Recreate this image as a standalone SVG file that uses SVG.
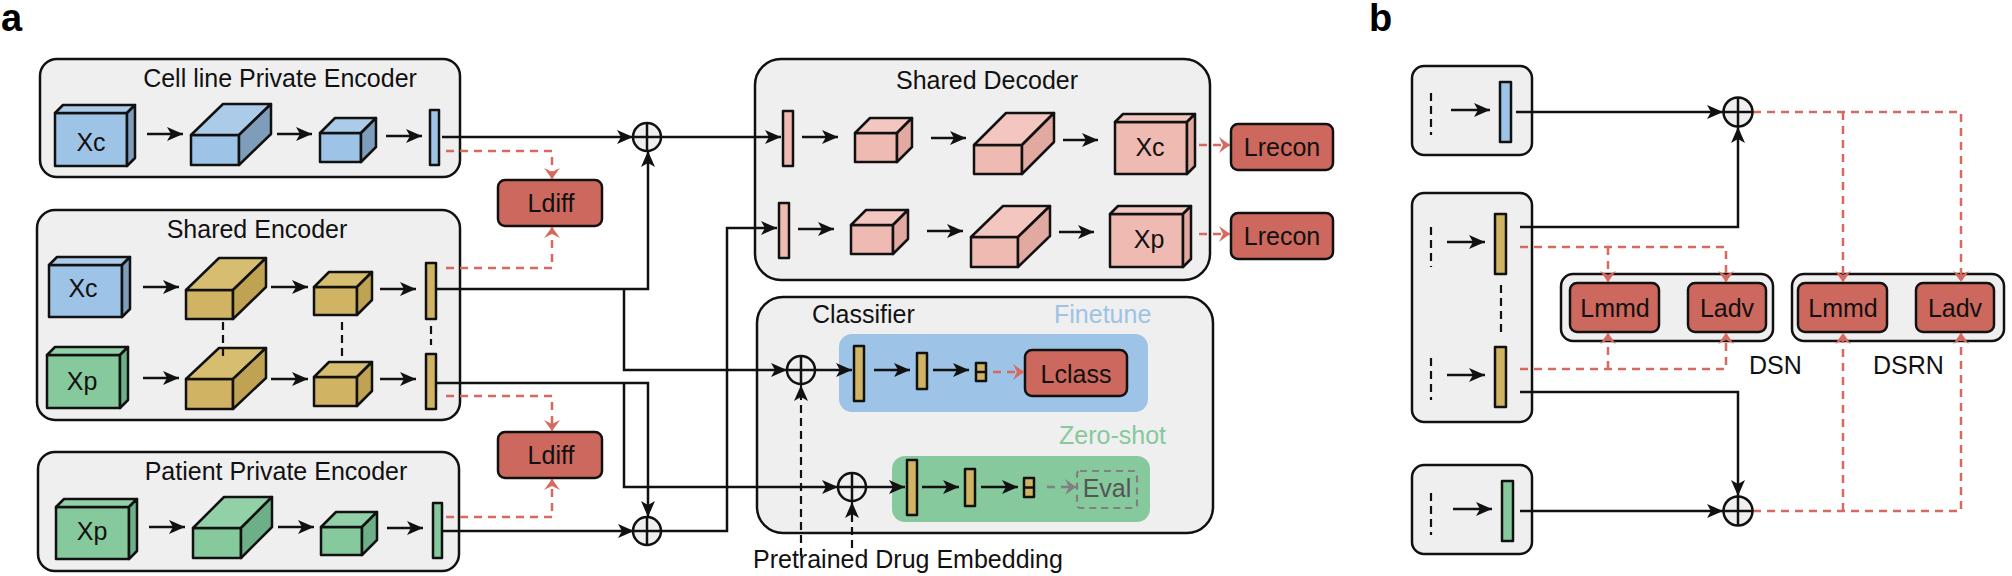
<svg xmlns="http://www.w3.org/2000/svg" width="2012" height="576" viewBox="0 0 2012 576">
<defs>
<style>
.box{fill:#efefef;stroke:#111;stroke-width:2.5}
.t{font-family:"Liberation Sans",Arial,sans-serif;font-size:25px;fill:#111}
.c{text-anchor:middle}
.lbl{font-family:"Liberation Sans",Arial,sans-serif;font-size:38px;font-weight:bold;fill:#000}
.ln{fill:none;stroke:#111;stroke-width:2.5}
.dk{fill:none;stroke:#111;stroke-width:2.2;stroke-dasharray:8 5}
.rd{fill:none;stroke:#d66a60;stroke-width:2.5;stroke-dasharray:8 6}
.gd{fill:none;stroke:#808080;stroke-width:2.5;stroke-dasharray:8 6}
.loss{fill:#cd685e;stroke:#111;stroke-width:2.5}
.sh{stroke:#111;stroke-width:2.5;stroke-linejoin:round}
.bF{fill:#9dc3e6}.bT{fill:#abcbe8}.bS{fill:#7d9dbb}
.gF{fill:#d0b464}.gT{fill:#d6bd70}.gS{fill:#bfa353}
.nF{fill:#86c99d}.nT{fill:#92d0a8}.nS{fill:#6db088}
.pF{fill:#efbab2}.pT{fill:#f3c6bf}.pS{fill:#e2a9a0}
.plus{fill:#efefef;stroke:#111;stroke-width:2.5}
</style>
<marker id="ah" markerUnits="userSpaceOnUse" viewBox="0 0 17 14" markerWidth="17" markerHeight="14" refX="16" refY="7" orient="auto"><path d="M0,0 L16,7 L0,14 L4,7 z" fill="#111"/></marker>
<marker id="ra" markerUnits="userSpaceOnUse" viewBox="0 0 12 16" markerWidth="12" markerHeight="16" refX="11" refY="8" orient="auto"><path d="M0,0 L11,8 L0,16 L4,8 z" fill="#d66a60"/></marker>
<marker id="ga" markerUnits="userSpaceOnUse" viewBox="0 0 12 16" markerWidth="12" markerHeight="16" refX="11" refY="8" orient="auto"><path d="M0,0 L11,8 L0,16 L4,8 z" fill="#808080"/></marker>
</defs>
<rect width="2012" height="576" fill="#fff"/>

<text class="lbl" x="1" y="31">a</text>
<text class="lbl" x="1369" y="31">b</text>

<!-- Cell line Private Encoder -->
<g id="cell-encoder">
<rect class="box" x="40" y="59" width="420" height="118" rx="17"/>
<text class="t c" x="280" y="87">Cell line Private Encoder</text>
<g class="sh"><rect class="bF" x="55" y="113" width="72" height="53"/><polygon class="bT" points="55,113 63,105 135,105 127,113"/><polygon class="bS" points="127,113 135,105 135,158 127,166"/></g>
<text class="t c" x="91" y="151">Xc</text>
<g class="sh"><rect class="bF" x="191" y="135" width="48" height="30"/><polygon class="bT" points="191,135 223,104 271,104 239,135"/><polygon class="bS" points="239,135 271,104 271,134 239,165"/></g>
<g class="sh"><rect class="bF" x="320" y="133" width="41" height="29"/><polygon class="bT" points="320,133 335,118 376,118 361,133"/><polygon class="bS" points="361,133 376,118 376,147 361,162"/></g>
<rect class="sh bF" x="430" y="110" width="9" height="55"/>
<path class="ln" marker-end="url(#ah)" d="M147,134 H183"/>
<path class="ln" marker-end="url(#ah)" d="M277,134 H312"/>
<path class="ln" marker-end="url(#ah)" d="M386,136 H422"/>
</g>

<!-- Shared Encoder -->
<g id="shared-encoder">
<rect class="box" x="37" y="210" width="423" height="210" rx="18"/>
<text class="t c" x="257" y="238">Shared Encoder</text>
<g class="sh"><rect class="bF" x="49" y="265" width="73" height="52"/><polygon class="bT" points="49,265 57,257 130,257 122,265"/><polygon class="bS" points="122,265 130,257 130,309 122,317"/></g>
<text class="t c" x="83" y="297">Xc</text>
<g class="sh"><rect class="gF" x="186" y="290" width="47" height="29"/><polygon class="gT" points="186,290 219,258 266,258 233,290"/><polygon class="gS" points="233,290 266,258 266,287 233,319"/></g>
<g class="sh"><rect class="gF" x="314" y="287" width="43" height="28"/><polygon class="gT" points="314,287 329,272 372,272 357,287"/><polygon class="gS" points="357,287 372,272 372,300 357,315"/></g>
<rect class="sh gF" x="426" y="263" width="10" height="56"/>
<g class="sh"><rect class="nF" x="47" y="355" width="73" height="53"/><polygon class="nT" points="47,355 55,347 128,347 120,355"/><polygon class="nS" points="120,355 128,347 128,400 120,408"/></g>
<text class="t c" x="82" y="390">Xp</text>
<g class="sh"><rect class="gF" x="186" y="379" width="47" height="30"/><polygon class="gT" points="186,379 219,348 266,348 233,379"/><polygon class="gS" points="233,379 266,348 266,378 233,409"/></g>
<g class="sh"><rect class="gF" x="314" y="377" width="43" height="29"/><polygon class="gT" points="314,377 329,362 372,362 357,377"/><polygon class="gS" points="357,377 372,362 372,391 357,406"/></g>
<rect class="sh gF" x="426" y="354" width="10" height="55"/>
<path class="dk" d="M223,322 V357 M342,322 V357 M431,326 V345"/>
<path class="ln" marker-end="url(#ah)" d="M143,287 H179"/>
<path class="ln" marker-end="url(#ah)" d="M271,287 H308"/>
<path class="ln" marker-end="url(#ah)" d="M380,289 H416"/>
<path class="ln" marker-end="url(#ah)" d="M143,378 H179"/>
<path class="ln" marker-end="url(#ah)" d="M271,379 H308"/>
<path class="ln" marker-end="url(#ah)" d="M380,379 H416"/>
</g>

<!-- Patient Private Encoder -->
<g id="patient-encoder">
<rect class="box" x="38" y="452" width="421" height="119" rx="17"/>
<text class="t c" x="276" y="480">Patient Private Encoder</text>
<g class="sh"><rect class="nF" x="56" y="507" width="73" height="52"/><polygon class="nT" points="56,507 64,499 137,499 129,507"/><polygon class="nS" points="129,507 137,499 137,551 129,559"/></g>
<text class="t c" x="92" y="540">Xp</text>
<g class="sh"><rect class="nF" x="193" y="528" width="48" height="30"/><polygon class="nT" points="193,528 224,497 272,497 241,528"/><polygon class="nS" points="241,528 272,497 272,527 241,558"/></g>
<g class="sh"><rect class="nF" x="321" y="527" width="41" height="28"/><polygon class="nT" points="321,527 336,512 377,512 362,527"/><polygon class="nS" points="362,527 377,512 377,540 362,555"/></g>
<rect class="sh nF" x="433" y="503" width="9" height="55"/>
<path class="ln" marker-end="url(#ah)" d="M149,527 H185"/>
<path class="ln" marker-end="url(#ah)" d="M278,527 H314"/>
<path class="ln" marker-end="url(#ah)" d="M387,528 H423"/>
</g>

<!-- Ldiff boxes -->
<g id="ldiff-1"><rect class="loss" x="498" y="180" width="104" height="46" rx="7"/><text class="t c" x="551" y="212">Ldiff</text></g>
<g id="ldiff-2"><rect class="loss" x="498" y="432" width="104" height="46" rx="7"/><text class="t c" x="551" y="464">Ldiff</text></g>

<!-- Shared Decoder -->
<g id="shared-decoder">
<rect class="box" x="755" y="59" width="455" height="221" rx="26"/>
<text class="t c" x="987" y="89">Shared Decoder</text>
<rect class="sh pF" x="783" y="111" width="10" height="55"/>
<g class="sh"><rect class="pF" x="855" y="133" width="42" height="29"/><polygon class="pT" points="855,133 870,118 912,118 897,133"/><polygon class="pS" points="897,133 912,118 912,147 897,162"/></g>
<g class="sh"><rect class="pF" x="974" y="145" width="48" height="29"/><polygon class="pT" points="974,145 1006,113 1054,113 1022,145"/><polygon class="pS" points="1022,145 1054,113 1054,142 1022,174"/></g>
<g class="sh"><rect class="pF" x="1115" y="122" width="72" height="52"/><polygon class="pT" points="1115,122 1123,114 1195,114 1187,122"/><polygon class="pS" points="1187,122 1195,114 1195,166 1187,174"/></g>
<text class="t c" x="1150" y="156">Xc</text>
<rect class="sh pF" x="779" y="203" width="10" height="55"/>
<g class="sh"><rect class="pF" x="851" y="225" width="42" height="29"/><polygon class="pT" points="851,225 866,210 908,210 893,225"/><polygon class="pS" points="893,225 908,210 908,239 893,254"/></g>
<g class="sh"><rect class="pF" x="971" y="237" width="47" height="30"/><polygon class="pT" points="971,237 1003,206 1050,206 1018,237"/><polygon class="pS" points="1018,237 1050,206 1050,236 1018,267"/></g>
<g class="sh"><rect class="pF" x="1110" y="214" width="73" height="53"/><polygon class="pT" points="1110,214 1118,206 1191,206 1183,214"/><polygon class="pS" points="1183,214 1191,206 1191,259 1183,267"/></g>
<text class="t c" x="1149" y="248">Xp</text>
<path class="ln" marker-end="url(#ah)" d="M802,137 H838"/>
<path class="ln" marker-end="url(#ah)" d="M931,138 H966"/>
<path class="ln" marker-end="url(#ah)" d="M1063,140 H1098"/>
<path class="ln" marker-end="url(#ah)" d="M798,229 H834"/>
<path class="ln" marker-end="url(#ah)" d="M927,231 H963"/>
<path class="ln" marker-end="url(#ah)" d="M1059,232 H1094"/>
</g>
<g id="lrecon-1"><rect class="loss" x="1231" y="124" width="102" height="46" rx="7"/><text class="t c" x="1282" y="156">Lrecon</text></g>
<g id="lrecon-2"><rect class="loss" x="1231" y="213" width="102" height="46" rx="7"/><text class="t c" x="1282" y="245">Lrecon</text></g>

<!-- Classifier -->
<g id="classifier">
<rect class="box" x="757" y="297" width="456" height="236" rx="26"/>
<text class="t" x="812" y="323">Classifier</text>
<text class="t" x="1054" y="323" style="fill:#9dc3e6">Finetune</text>
<text class="t" x="1059" y="444" style="fill:#86c99d">Zero-shot</text>
<rect x="839" y="334" width="309" height="78" rx="13" fill="#9dc3e6"/>
<rect x="892" y="456" width="258" height="66" rx="13" fill="#86c99d"/>
<rect class="sh gF" x="854" y="346" width="10" height="55"/>
<rect class="sh gF" x="917" y="353" width="10" height="36"/>
<rect class="sh gF" x="976" y="363" width="10" height="18"/>
<path class="ln" d="M976,372 H986"/>
<path class="ln" marker-end="url(#ah)" d="M874,370 H910"/>
<path class="ln" marker-end="url(#ah)" d="M933,370 H969"/>
<rect class="sh gF" x="907" y="460" width="10" height="55"/>
<rect class="sh gF" x="965" y="469" width="10" height="37"/>
<rect class="sh gF" x="1024" y="478" width="10" height="19"/>
<path class="ln" d="M1024,487.5 H1034"/>
<path class="ln" marker-end="url(#ah)" d="M922,487 H959"/>
<path class="ln" marker-end="url(#ah)" d="M981,487 H1018"/>
<g id="lclass"><rect class="loss" x="1025" y="350" width="102" height="46" rx="7"/><text class="t c" x="1076" y="383">Lclass</text></g>
<g id="eval"><rect x="1077" y="471" width="60" height="37" rx="3" fill="none" stroke="#808080" stroke-width="2.2" stroke-dasharray="7 5"/><text class="t c" x="1107" y="497" style="fill:#555">Eval</text></g>
</g>

<text class="t" x="753" y="568">Pretrained Drug Embedding</text>

<!-- Panel b nodes -->
<g id="b-cell">
<rect class="box" x="1412" y="66" width="120" height="89" rx="12"/>
<path class="dk" d="M1431,93 V135"/>
<path class="ln" marker-end="url(#ah)" d="M1451,110 H1490"/>
<rect class="sh bF" x="1500" y="82" width="11" height="60"/>
</g>
<g id="b-shared">
<rect class="box" x="1412" y="193" width="120" height="229" rx="12"/>
<path class="dk" d="M1431,227 V267 M1431,358 V400 M1501,285 V337"/>
<path class="ln" marker-end="url(#ah)" d="M1447,242 H1485"/>
<path class="ln" marker-end="url(#ah)" d="M1447,375 H1485"/>
<rect class="sh gF" x="1495" y="214" width="11" height="60"/>
<rect class="sh gF" x="1495" y="347" width="11" height="60"/>
</g>
<g id="b-patient">
<rect class="box" x="1412" y="465" width="120" height="89" rx="12"/>
<path class="dk" d="M1431,493 V535"/>
<path class="ln" marker-end="url(#ah)" d="M1453,509 H1492"/>
<rect class="sh nF" x="1502" y="481" width="11" height="60"/>
</g>
<g id="dsn">
<rect class="box" x="1561" y="274" width="212" height="67" rx="12"/>
<rect class="loss" x="1570" y="283" width="89" height="49" rx="7"/><text class="t c" x="1615" y="317">Lmmd</text>
<rect class="loss" x="1688" y="283" width="78" height="49" rx="7"/><text class="t c" x="1727" y="317">Ladv</text>
<text class="t" x="1749" y="374">DSN</text>
</g>
<g id="dsrn">
<rect class="box" x="1792" y="274" width="212" height="67" rx="12"/>
<rect class="loss" x="1798" y="283" width="89" height="49" rx="7"/><text class="t c" x="1843" y="317">Lmmd</text>
<rect class="loss" x="1916" y="283" width="78" height="49" rx="7"/><text class="t c" x="1955" y="317">Ladv</text>
<text class="t" x="1873" y="374">DSRN</text>
</g>

<!-- Connectors -->
<g id="connectors">
<path class="ln" marker-end="url(#ah)" d="M442,137 H633"/>
<path class="ln" marker-end="url(#ah)" d="M661,137 H781"/>
<path class="ln" marker-end="url(#ah)" d="M437,289 H648 V151"/>
<path class="ln" marker-end="url(#ah)" d="M624,289 V370 H787"/>
<path class="ln" marker-end="url(#ah)" d="M437,383 H648 V517"/>
<path class="ln" marker-end="url(#ah)" d="M624,383 V487 H838"/>
<path class="ln" marker-end="url(#ah)" d="M443,531 H634"/>
<path class="ln" marker-end="url(#ah)" d="M662,531 H727 V228 H777"/>
<path class="ln" marker-end="url(#ah)" d="M815,370 H852"/>
<path class="ln" marker-end="url(#ah)" d="M867,487 H905"/>
<path class="dk" marker-end="url(#ah)" d="M801,556 V385"/>
<path class="dk" marker-end="url(#ah)" d="M852,548 V502"/>
<path class="rd" marker-end="url(#ra)" d="M446,151 H552 V179"/>
<path class="rd" marker-end="url(#ra)" d="M446,268 H552 V227"/>
<path class="rd" marker-end="url(#ra)" d="M446,396 H552 V431"/>
<path class="rd" marker-end="url(#ra)" d="M446,517 H552 V479"/>
<path class="rd" marker-end="url(#ra)" d="M1199,145 H1230"/>
<path class="rd" marker-end="url(#ra)" d="M1199,234 H1230"/>
<path class="rd" marker-end="url(#ra)" d="M993,372 H1024"/>
<path class="gd" marker-end="url(#ga)" d="M1047,487 H1076"/>
<path class="ln" marker-end="url(#ah)" d="M1516,112 H1723"/>
<path class="ln" marker-end="url(#ah)" d="M1520,227 H1738 V127"/>
<path class="ln" marker-end="url(#ah)" d="M1520,392 H1738 V496"/>
<path class="ln" marker-end="url(#ah)" d="M1520,511 H1723"/>
<path class="rd" marker-end="url(#ra)" d="M1520,247 H1726 V282"/>
<path class="rd" marker-end="url(#ra)" d="M1608,247 V282"/>
<path class="rd" marker-end="url(#ra)" d="M1520,369 H1726 V333"/>
<path class="rd" marker-end="url(#ra)" d="M1608,369 V333"/>
<path class="rd" marker-end="url(#ra)" d="M1753,112 H1961 V282"/>
<path class="rd" marker-end="url(#ra)" d="M1843,112 V282"/>
<path class="rd" marker-end="url(#ra)" d="M1753,511 H1961 V333"/>
<path class="rd" marker-end="url(#ra)" d="M1843,511 V333"/>
</g>

<!-- Sum nodes -->
<g id="sum-1"><circle class="plus" cx="647" cy="137" r="14"/><path class="ln" d="M633,137 H661 M647,123 V151"/></g>
<g id="sum-2"><circle class="plus" cx="647" cy="531" r="14"/><path class="ln" d="M633,531 H661 M647,517 V545"/></g>
<g id="sum-cls"><circle class="plus" cx="801" cy="370" r="14"/><path class="ln" d="M787,370 H815 M801,356 V384"/></g>
<g id="sum-zs"><circle class="plus" cx="852" cy="487" r="14"/><path class="ln" d="M838,487 H866 M852,473 V501"/></g>
<g id="sum-b1"><circle class="plus" cx="1738" cy="112" r="14.5"/><path class="ln" d="M1723.5,112 H1752.5 M1738,97.5 V126.5"/></g>
<g id="sum-b2"><circle class="plus" cx="1738" cy="511" r="14.5"/><path class="ln" d="M1723.5,511 H1752.5 M1738,496.5 V525.5"/></g>
</svg>
